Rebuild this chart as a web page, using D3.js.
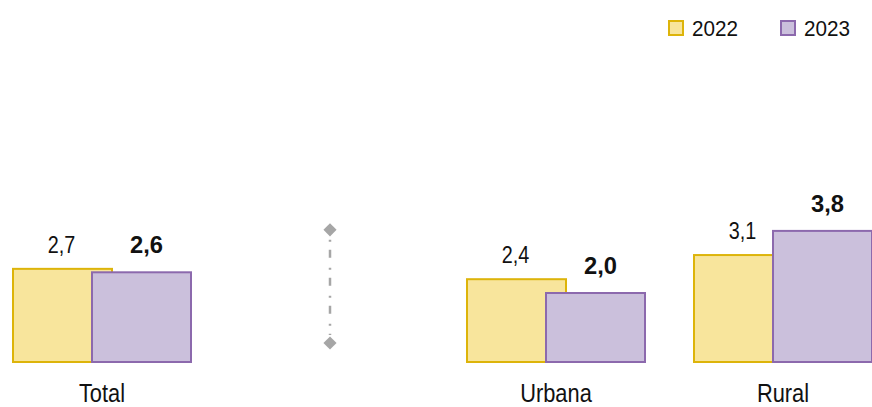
<!DOCTYPE html>
<html><head><meta charset="utf-8">
<script src="https://cdn.jsdelivr.net/npm/d3@7"></script>
<style>html,body{margin:0;padding:0;background:#fff;}</style>
</head><body>
<svg id="c" width="872" height="407"></svg>
<script>
const categories = ["Total", "", "Urbana", "Rural"];
const series = ["2022", "2023"];
const values2022 = [2.7, null, 2.4, 3.1];
const values2023 = [2.6, null, 2.0, 3.8];
const labels2022 = ["2,7", "", "2,4", "3,1"];
const labels2023 = ["2,6", "", "2,0", "3,8"];
const dividerValues = [0.55, 3.83];

const fills = {"2022": "#F8E59C", "2023": "#CBC0DC"};
const strokes = {"2022": "#DDB40A", "2023": "#8C69AD"};
const FONT = "'Liberation Sans',Arial,sans-serif";

const svg = d3.select("#c");
const x = d3.scalePoint().domain(categories).range([102, 783]);
const y = d3.scaleLinear().domain([0, 1]).range([362, 327.5]);
const off = d3.scalePoint().domain(series).range([-39.5, 39.5]);
const bw = 99;

const data = [];
categories.forEach((c, i) => {
  if (values2022[i] != null) data.push({c, s: "2022", v: values2022[i], l: labels2022[i]});
  if (values2023[i] != null) data.push({c, s: "2023", v: values2023[i], l: labels2023[i]});
});

svg.selectAll("rect.bar").data(data).enter().append("rect")
  .attr("class", "bar")
  .attr("x", d => x(d.c) + off(d.s) - bw / 2)
  .attr("y", d => y(d.v))
  .attr("width", bw)
  .attr("height", d => y(0) - y(d.v))
  .attr("fill", d => fills[d.s])
  .attr("stroke", d => strokes[d.s])
  .attr("stroke-width", 2);

svg.selectAll("text.val").data(data).enter().append("text")
  .attr("transform", d => {
    const tx = x(d.c) + off(d.s) + (d.s === "2023" ? 5 : -1);
    const ty = y(d.v) - (d.s === "2023" ? 19 : 16);
    return `translate(${tx},${ty}) scale(${d.s === "2023" ? 0.97 : 0.86},1)`;
  })
  .attr("text-anchor", "middle")
  .attr("font-family", FONT)
  .attr("font-size", d => d.s === "2023" ? 24.5 : 23)
  .attr("font-weight", d => d.s === "2023" ? "bold" : "normal")
  .attr("fill", "#111")
  .text(d => d.l);

svg.selectAll("text.cat").data(categories.filter(c => c)).enter().append("text")
  .attr("transform", d => `translate(${x(d)},402) scale(0.84,1)`)
  .attr("text-anchor", "middle")
  .attr("font-family", FONT)
  .attr("font-size", 26)
  .attr("fill", "#111")
  .text(d => d);

// divider
const dx = x("") + 1;
svg.append("line")
  .attr("x1", dx).attr("x2", dx)
  .attr("y1", y(dividerValues[1]) + 10).attr("y2", y(dividerValues[0]) - 8)
  .attr("stroke", "#A6A6A6").attr("stroke-width", 2.5)
  .attr("stroke-dasharray", "2,8,8,10");
svg.selectAll("path.dm").data(dividerValues).enter().append("path")
  .attr("d", d3.symbol().type(d3.symbolDiamond2).size(110))
  .attr("transform", d => `translate(${dx},${y(d)})`)
  .attr("fill", "#A6A6A6");

// legend
const lg = svg.append("g");
const lx = d3.scaleOrdinal().domain(series).range([668, 780]);
series.forEach(s => {
  lg.append("rect").attr("x", lx(s) + 1).attr("y", 21).attr("width", 14).attr("height", 14)
    .attr("fill", fills[s]).attr("stroke", strokes[s]).attr("stroke-width", 2);
  lg.append("text").attr("transform", `translate(${lx(s) + 24},36) scale(0.92,1)`)
    .attr("font-family", FONT).attr("font-size", 22.5)
    .attr("fill", "#111").text(s);
});
</script>
</body></html>
